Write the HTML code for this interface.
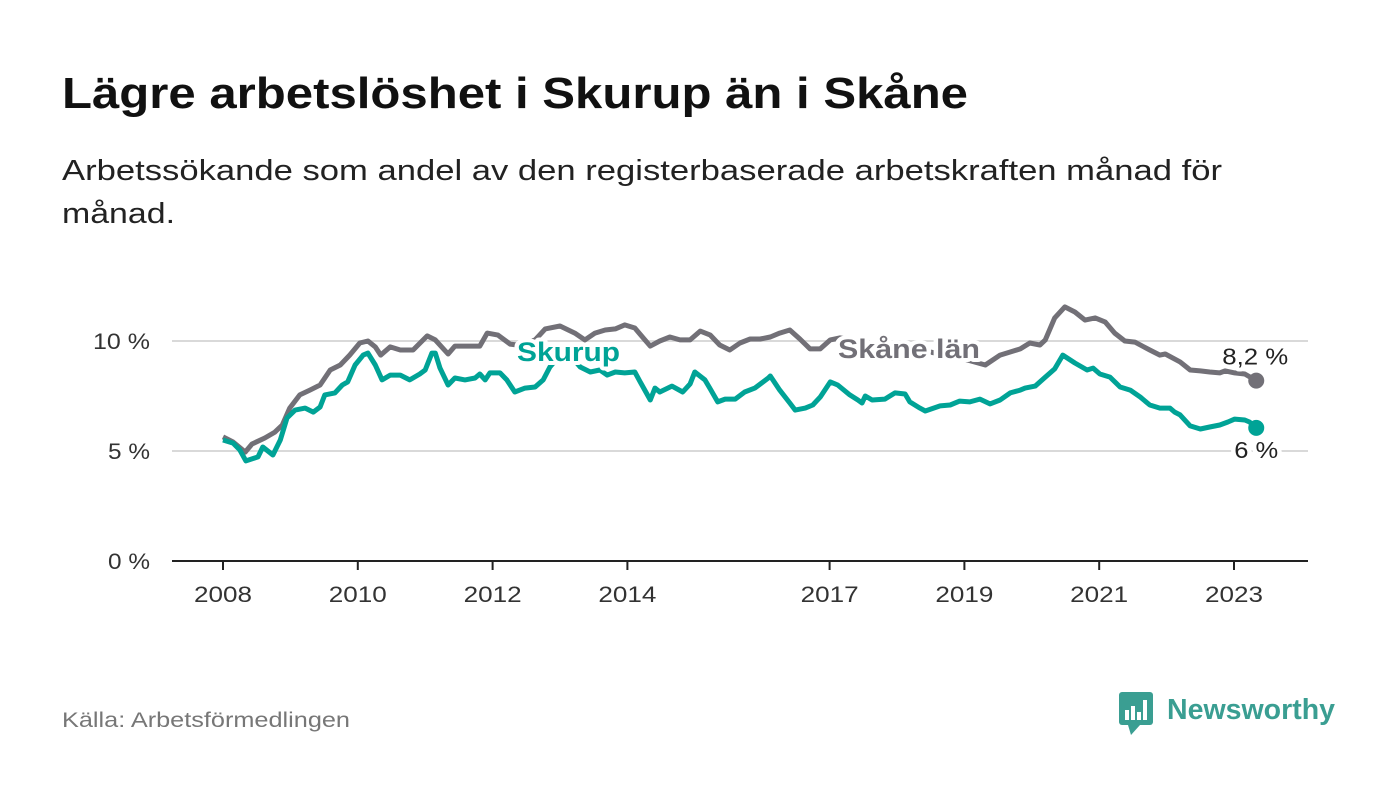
<!DOCTYPE html>
<html><head><meta charset="utf-8">
<style>
body{margin:0;background:#fff;width:1400px;height:794px;overflow:hidden;font-family:"Liberation Sans",sans-serif;}
svg text{font-family:"Liberation Sans",sans-serif;}
</style></head>
<body>
<svg width="1400" height="794" viewBox="0 0 1400 794">
<text x="62" y="108" font-size="44" font-weight="bold" fill="#111" textLength="906" lengthAdjust="spacingAndGlyphs">Lägre arbetslöshet i Skurup än i Skåne</text>
<text x="62" y="180" font-size="29" fill="#222" textLength="1160" lengthAdjust="spacingAndGlyphs">Arbetssökande som andel av den registerbaserade arbetskraften månad för</text>
<text x="62" y="223" font-size="29" fill="#222" textLength="113" lengthAdjust="spacingAndGlyphs">månad.</text>
<g id="grid"></g>
<g id="xaxis"></g>
<g id="lines"></g>
<g id="labels"></g>
<text x="62" y="727" font-size="21" fill="#777" textLength="288" lengthAdjust="spacingAndGlyphs">Källa: Arbetsförmedlingen</text>
<g>
<rect x="1119" y="692" width="34" height="33" rx="3" fill="#3a9e92"/>
<polygon points="1128,725 1140,725 1131,735" fill="#3a9e92"/>
<rect x="1125" y="710" width="4" height="10" fill="#fff"/><rect x="1131" y="706" width="4" height="14" fill="#fff"/><rect x="1137" y="712" width="4" height="8" fill="#fff"/><rect x="1143" y="700" width="4" height="20" fill="#fff"/>
<text x="1167" y="719" font-size="29" font-weight="bold" fill="#3a9e92" textLength="168" lengthAdjust="spacingAndGlyphs">Newsworthy</text>
</g>
</svg>
<script>
const yTicks=[0,5,10];
const yTickLabels=["0 %","5 %","10 %"];
const xTicks=[2008,2010,2012,2014,2017,2019,2021,2023];
const skaneDates=[2008.00,2008.15,2008.33,2008.43,2008.62,2008.77,2008.88,2008.99,2009.14,2009.29,2009.44,2009.59,2009.74,2009.88,2010.03,2010.15,2010.26,2010.34,2010.48,2010.63,2010.82,2011.03,2011.15,2011.34,2011.44,2011.66,2011.81,2011.92,2012.08,2012.26,2012.41,2012.63,2012.78,2013.00,2013.22,2013.37,2013.52,2013.67,2013.82,2013.96,2014.11,2014.26,2014.34,2014.48,2014.63,2014.78,2014.93,2015.08,2015.23,2015.37,2015.52,2015.67,2015.82,2015.97,2016.12,2016.26,2016.41,2016.56,2016.71,2016.86,2017.01,2017.15,2017.45,2017.75,2018.04,2018.34,2018.64,2018.93,2019.31,2019.53,2019.68,2019.83,2019.97,2020.12,2020.20,2020.34,2020.49,2020.64,2020.79,2020.94,2021.09,2021.23,2021.38,2021.53,2021.75,2021.90,2021.98,2022.20,2022.35,2022.50,2022.64,2022.79,2022.87,2023.01,2023.16,2023.33];
const skaneValues=[5.64,5.41,4.95,5.32,5.59,5.86,6.18,6.95,7.55,7.77,8.00,8.68,8.91,9.36,9.91,10.0,9.73,9.36,9.73,9.59,9.59,10.23,10.05,9.41,9.77,9.77,9.77,10.36,10.27,9.86,9.8,10.05,10.55,10.68,10.36,10.05,10.36,10.5,10.55,10.73,10.59,10.05,9.77,10.0,10.18,10.05,10.05,10.45,10.27,9.82,9.59,9.91,10.09,10.09,10.18,10.36,10.5,10.09,9.64,9.64,10.05,10.14,10.0,9.82,9.68,9.59,9.41,9.23,8.91,9.36,9.5,9.64,9.91,9.82,10.05,11.05,11.55,11.32,10.95,11.05,10.86,10.36,10.0,9.95,9.59,9.36,9.41,9.05,8.68,8.64,8.59,8.55,8.64,8.55,8.5,8.2];
const skurupDates=[2008.00,2008.15,2008.25,2008.34,2008.52,2008.59,2008.74,2008.85,2008.95,2009.07,2009.22,2009.34,2009.44,2009.51,2009.66,2009.77,2009.85,2009.96,2010.08,2010.15,2010.26,2010.36,2010.48,2010.63,2010.77,2010.92,2011.00,2011.10,2011.15,2011.22,2011.34,2011.44,2011.59,2011.74,2011.81,2011.89,2011.96,2012.11,2012.21,2012.33,2012.48,2012.63,2012.75,2012.85,2013.00,2013.15,2013.30,2013.45,2013.59,2013.70,2013.82,2013.96,2014.11,2014.19,2014.34,2014.41,2014.48,2014.66,2014.82,2014.93,2015.00,2015.15,2015.23,2015.34,2015.45,2015.60,2015.74,2015.89,2016.09,2016.12,2016.26,2016.41,2016.49,2016.64,2016.75,2016.86,2017.01,2017.12,2017.30,2017.42,2017.48,2017.53,2017.63,2017.82,2017.97,2018.12,2018.19,2018.34,2018.42,2018.64,2018.79,2018.93,2019.08,2019.23,2019.38,2019.53,2019.68,2019.83,2019.90,2020.05,2020.20,2020.34,2020.46,2020.64,2020.82,2020.91,2021.01,2021.16,2021.31,2021.46,2021.61,2021.75,2021.90,2022.05,2022.12,2022.20,2022.35,2022.50,2022.64,2022.79,2022.91,2023.01,2023.16,2023.23,2023.33];
const skurupValues=[5.5,5.36,5.05,4.55,4.73,5.18,4.82,5.5,6.5,6.86,6.95,6.77,7.0,7.55,7.64,8.0,8.14,8.91,9.36,9.45,8.91,8.23,8.45,8.45,8.23,8.5,8.68,9.45,9.45,8.77,8.0,8.32,8.23,8.32,8.5,8.23,8.55,8.55,8.23,7.68,7.86,7.91,8.23,8.82,9.36,9.36,8.82,8.59,8.68,8.45,8.59,8.55,8.59,8.14,7.32,7.86,7.68,7.95,7.68,8.05,8.59,8.23,7.82,7.23,7.36,7.36,7.68,7.86,8.32,8.41,7.77,7.18,6.86,6.95,7.09,7.45,8.14,8.0,7.55,7.32,7.18,7.5,7.32,7.36,7.64,7.59,7.23,6.95,6.82,7.05,7.09,7.27,7.23,7.36,7.14,7.32,7.64,7.77,7.86,7.95,8.36,8.73,9.36,9.0,8.68,8.77,8.5,8.36,7.91,7.77,7.45,7.09,6.95,6.95,6.77,6.64,6.14,6.0,6.09,6.18,6.32,6.45,6.41,6.32,6.05];
const endLabels=["8,2 %","6 %"];

const NS="http://www.w3.org/2000/svg";
const X0=172,X1=1308;
function xScale(t){return 223+(t-2008)*67.4;}
function yScale(v){return 561-v*22;}
function mk(tag,attrs,parent){const e=document.createElementNS(NS,tag);for(const k in attrs)e.setAttribute(k,attrs[k]);parent.appendChild(e);return e;}
const grid=document.getElementById('grid');
yTicks.forEach((v,i)=>{
  if(v>0){const l=mk('line',{x1:X0,x2:X1,y1:yScale(v),y2:yScale(v),stroke:'#d9d9d9','stroke-width':2},grid);
  
  }
  const lab=yTickLabels[i];
  const t=mk('text',{x:150,y:yScale(v)+8,'text-anchor':'end','font-size':22,fill:'#333',textLength:lab.length>3?57:42,lengthAdjust:'spacingAndGlyphs'},grid);
  t.textContent=lab;
  
  
});
const xa=document.getElementById('xaxis');
const ax=mk('line',{x1:X0,x2:X1,y1:561,y2:561,stroke:'#222','stroke-width':2},xa);


xTicks.forEach(y=>{
  const tk=mk('line',{x1:xScale(y),x2:xScale(y),y1:561,y2:570,stroke:'#222','stroke-width':2},xa);
  
  
  const t=mk('text',{x:xScale(y)-29,y:602,'font-size':22,fill:'#333',textLength:58,lengthAdjust:'spacingAndGlyphs'},xa);
  t.textContent=y;
  
  
});
const lines=document.getElementById('lines');
function path(d,v){return d.map((t,i)=>(i?'L':'M')+xScale(t).toFixed(1)+','+yScale(v[i]).toFixed(1)).join('');}
const pg=mk('path',{d:path(skaneDates,skaneValues),fill:'none',stroke:'#727077','stroke-width':5,'stroke-linejoin':'round'},lines);


const pt=mk('path',{d:path(skurupDates,skurupValues),fill:'none',stroke:'#00a396','stroke-width':5,'stroke-linejoin':'round'},lines);


const lg=skaneDates.length-1,lt=skurupDates.length-1;
const dg=mk('circle',{cx:xScale(skaneDates[lg]),cy:yScale(skaneValues[lg]),r:8,fill:'#727077'},lines);


const dt=mk('circle',{cx:xScale(skurupDates[lt]),cy:yScale(skurupValues[lt]),r:8,fill:'#00a396'},lines);


const lb=document.getElementById('labels');
function label(txt,x,y,size,fill,bold,len,name){
  const t=mk('text',{x:x,y:y,'font-size':size,fill:fill,'font-weight':bold?'bold':'normal',stroke:'#fff','stroke-width':8,'paint-order':'stroke','stroke-linejoin':'round',textLength:len,lengthAdjust:'spacingAndGlyphs'},lb);
  t.textContent=txt;
  
  
}
label('Skurup',517,361,27,'#00a396',true,103,'skurup-series-label');
label('Skåne län',838,358,27,'#727077',true,142,'skane-series-label');
label(endLabels[0],xScale(skaneDates[lg])-34,yScale(skaneValues[lg])-16,23,'#222',false,66,'skane-end-value');
label(endLabels[1],xScale(skurupDates[lt])-22,yScale(skurupValues[lt])+30,23,'#222',false,44,'skurup-end-value');
</script>
</body></html>
